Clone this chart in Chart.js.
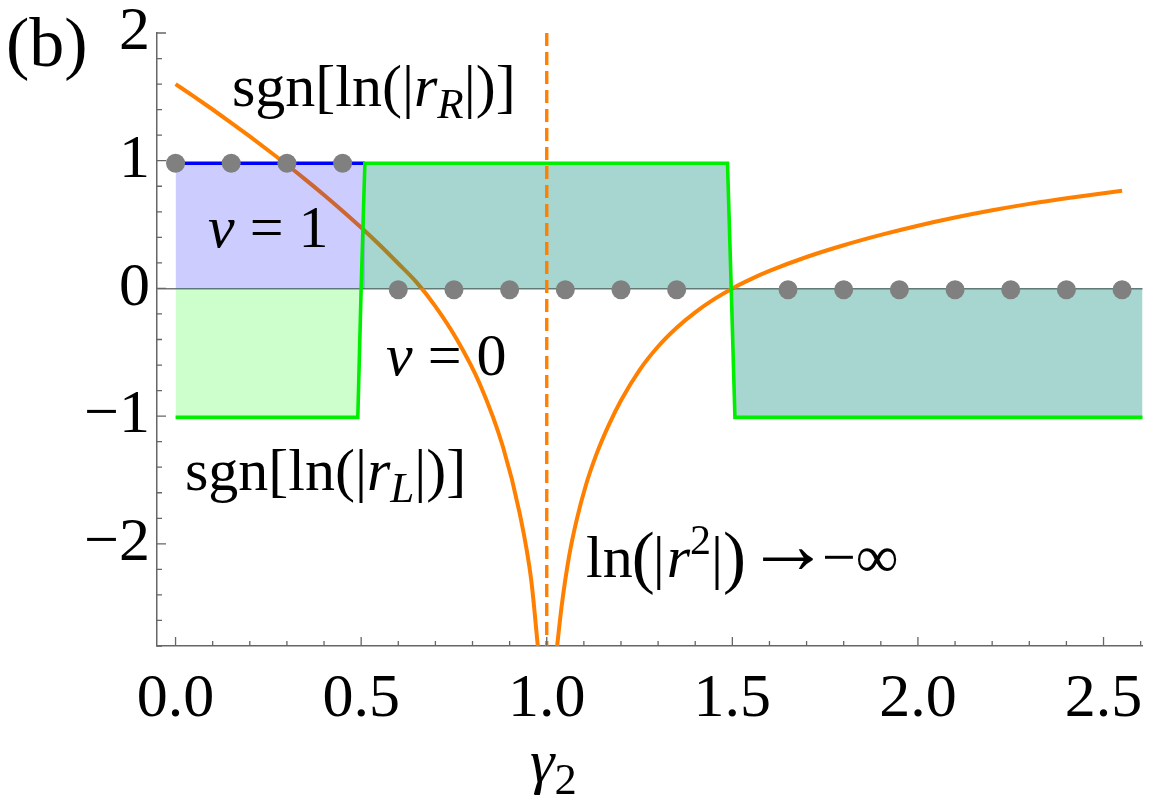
<!DOCTYPE html>
<html>
<head>
<meta charset="utf-8">
<script src="https://cdn.jsdelivr.net/npm/chart.js@4.4.1/dist/chart.umd.min.js"></script>
<style>
  body { margin: 0; background: #fff; }
  canvas { display: block; }
</style>
</head>
<body>
<canvas id="chart" width="1152" height="804"></canvas>
<script>
// tick labels
const xTicks = [0, 0.5, 1, 1.5, 2, 2.5];
const yTicks = [-2, -1, 0, 1, 2];

// ln(|r^2|), left and right of the divergence at gamma2 = 1
const lnLeftX = [0, 0.05, 0.1, 0.15, 0.2, 0.25, 0.3, 0.35, 0.4, 0.45, 0.5, 0.55, 0.6, 0.65, 0.7, 0.758, 0.82, 0.882, 0.927, 0.958, 0.976];
const lnLeftY = [1.60, 1.502, 1.401, 1.297, 1.19, 1.08, 0.968, 0.852, 0.732, 0.607, 0.477, 0.34, 0.195, 0.045, -0.14, -0.40, -0.75, -1.24, -1.76, -2.28, -2.8];
const lnRightX = [1.028, 1.04, 1.06, 1.08, 1.105, 1.135, 1.167, 1.2, 1.25, 1.3, 1.35, 1.4, 1.45, 1.5,
  1.55, 1.6, 1.7, 1.8, 1.9, 2.0, 2.1, 2.2, 2.3, 2.4, 2.55];
const lnRightY = [-2.8, -2.49, -2.10, -1.82, -1.545, -1.29, -1.07, -0.877, -0.639, -0.455, -0.308, -0.187, -0.086, 0.0,
  0.073, 0.137, 0.246, 0.338, 0.419, 0.491, 0.555, 0.612, 0.662, 0.706, 0.765];

// sgn[ln(|r_R|)] (blue) and sgn[ln(|r_L|)] (green)
const blueX = [0, 0.51];
const blueY = [0.98, 0.98];
const greenX = [0, 0.491, 0.5, 0.51, 1.487, 1.497, 1.507, 2.62];
const greenY = [-1.01, -1.01, 0, 0.98, 0.98, 0, -1.01, -1.01];

// winding number dots
const dotX = [0, 0.15, 0.3, 0.45, 0.6, 0.75, 0.9, 1.05, 1.2, 1.35, 1.65, 1.8, 1.95, 2.1, 2.25, 2.4, 2.55];
const dotY = [0.98, 0.98, 0.98, 0.98, -0.01, -0.01, -0.01, -0.01, -0.01, -0.01, -0.01, -0.01, -0.01, -0.01, -0.01, -0.01, -0.01];

// singular point
const poleX = 1.0;

const SERIF = '"Liberation Serif", "Times New Roman", serif';
const FS = 60;

function pts(xs, ys) {
  return xs.map((x, i) => ({ x, y: ys[i] }));
}

// parts: { t, it, sub, sup, big, dy, gap, x }
function drawRich(ctx, x, y, parts, size) {
  let cx = x;
  parts.forEach(p => {
    let s = size, dy = 0;
    if (p.sub) { s = size * 0.72; dy = size * 0.2; }
    if (p.sup) { s = size * 0.7; dy = -size * 0.38; }
    if (p.big) { s = size * p.big; dy = size * (p.big - 1) * 0.3; }
    if (p.dy !== undefined) dy = p.dy;
    if (p.x !== undefined) cx = p.x;
    ctx.font = (p.it ? 'italic ' : '') + s + 'px ' + SERIF;
    ctx.fillText(p.t, cx, y + dy);
    cx += ctx.measureText(p.t).width + (p.gap || 0);
  });
}

const extras = {
  id: 'extras',
  afterDraw(chart) {
    const ctx = chart.ctx;
    const xs = chart.scales.x, ys = chart.scales.y;
    const area = chart.chartArea;
    ctx.save();
    // inner ticks
    ctx.strokeStyle = '#666';
    ctx.lineWidth = 1.3;
    ctx.beginPath();
    for (let i = 0; i <= 26; i++) {
      const px = xs.getPixelForValue(i / 10);
      const len = (i % 5 === 0) ? 9 : 5;
      ctx.moveTo(px, area.bottom);
      ctx.lineTo(px, area.bottom - len);
    }
    for (let i = -14; i <= 10; i++) {
      const py = ys.getPixelForValue(i / 5);
      const len = (i % 5 === 0) ? 9 : 5;
      ctx.moveTo(area.left, py);
      ctx.lineTo(area.left + len, py);
    }
    ctx.stroke();

    // labels
    ctx.fillStyle = '#000';
    ctx.textBaseline = 'alphabetic';
    ctx.textAlign = 'left';
    drawRich(ctx, 6, 66, [{ t: '(b)' }], 70);
    drawRich(ctx, 232, 106, [{ t: 'sgn[ln(|' }, { t: 'r', it: true }, { t: 'R', it: true, sub: true }, { t: '|)]' }], FS);
    drawRich(ctx, 208, 247, [{ t: 'ν', it: true }, { t: ' = 1' }], FS);
    drawRich(ctx, 386, 375, [{ t: 'ν', it: true }, { t: ' = 0' }], FS);
    drawRich(ctx, 185, 490, [{ t: 'sgn[ln(|' }, { t: 'r', it: true }, { t: 'L', it: true, sub: true }, { t: '|)]' }], FS);
    drawRich(ctx, 586, 577, [
      { t: 'ln', gap: -1 }, { t: '(', big: 1.15, gap: -2 }, { t: '|', gap: 2 }, { t: 'r', it: true }, { t: '2', sup: true },
      { t: '|' }, { t: ')', big: 1.15 },
      { t: '→', big: 1.4, dy: -4, x: 746 }, { t: '−∞', x: 822 }
    ], FS);
    drawRich(ctx, 530, 782, [{ t: 'γ', it: true }, { t: '2', sub: true }], 62);
    ctx.restore();
  }
};

const lineBase = { showLine: true, pointRadius: 0, fill: false, tension: 0 };

new Chart(document.getElementById('chart'), {
  type: 'scatter',
  data: {
    datasets: [
      { ...lineBase, label: 'dots', data: pts(dotX, dotY), showLine: false, pointRadius: 9.5,
        pointBackgroundColor: '#808080', pointBorderWidth: 0, order: 0 },
      { ...lineBase, label: 'pole', data: [{ x: poleX, y: 2 }, { x: poleX, y: -2.8 }],
        borderColor: '#ff8000', borderWidth: 3.4, borderDash: [13, 6], order: 1 },
      { ...lineBase, label: 'sgnL', data: pts(greenX, greenY), borderColor: '#00ee00', borderWidth: 3.6, order: 2 },
      { ...lineBase, label: 'sgnR', data: pts(blueX, blueY), borderColor: '#0000ff', borderWidth: 3.4, order: 3 },
      { ...lineBase, label: 'fillR', data: pts(blueX, blueY), borderWidth: 0, borderColor: 'rgba(0,0,0,0)',
        fill: 'origin', backgroundColor: 'rgba(0,0,255,0.2)', order: 4 },
      { ...lineBase, label: 'fillL1', data: pts(greenX.slice(0, 3), greenY.slice(0, 3)), borderWidth: 0,
        borderColor: 'rgba(0,0,0,0)', fill: 'origin', backgroundColor: 'rgba(0,255,0,0.2)', order: 5 },
      { ...lineBase, label: 'fillL2', data: pts(greenX.slice(2), greenY.slice(2)), borderWidth: 0,
        borderColor: 'rgba(0,0,0,0)', fill: 'origin', backgroundColor: 'rgba(0,138,118,0.35)', order: 6 },
      { ...lineBase, label: 'lnLeft', data: pts(lnLeftX, lnLeftY), borderColor: '#ff8000', borderWidth: 4,
        cubicInterpolationMode: 'monotone', order: 7 },
      { ...lineBase, label: 'lnRight', data: pts(lnRightX, lnRightY), borderColor: '#ff8000', borderWidth: 4,
        cubicInterpolationMode: 'monotone', order: 8 }
    ]
  },
  options: {
    responsive: false,
    animation: false,
    devicePixelRatio: 1,
    layout: { padding: { top: 33, right: 0, left: 0, bottom: 0 } },
    plugins: {
      legend: { display: false },
      tooltip: { enabled: false },
      filler: { drawTime: 'beforeDatasetDraw' }
    },
    scales: {
      x: {
        type: 'linear', min: -0.05, max: 2.605,
        afterBuildTicks: s => { s.ticks = xTicks.map(v => ({ value: v })); },
        afterFit: s => { s.height = 158; s.paddingRight = 0; },
        grid: { display: false },
        border: { display: true, color: '#666', width: 1.5 },
        ticks: {
          padding: 15, color: '#000', maxRotation: 0, autoSkip: false,
          font: { family: SERIF, size: 62, lineHeight: 1 },
          callback: v => v.toFixed(1)
        }
      },
      y: {
        min: -2.8, max: 2,
        afterBuildTicks: s => { s.ticks = yTicks.map(v => ({ value: v })); },
        afterFit: s => { s.width = 157; s.paddingTop = 0; },
        grid: {
          drawTicks: false, lineWidth: 1.5,
          color: c => (c.tick && c.tick.value === 0) ? '#777' : 'rgba(0,0,0,0)'
        },
        border: { display: true, color: '#666', width: 1.5 },
        ticks: {
          padding: 7, color: '#000', autoSkip: false,
          font: { family: SERIF, size: 62, lineHeight: 1 },
          callback: v => v < 0 ? '−' + Math.abs(v) : String(v)
        }
      }
    }
  },
  plugins: [extras]
});
</script>
</body>
</html>
